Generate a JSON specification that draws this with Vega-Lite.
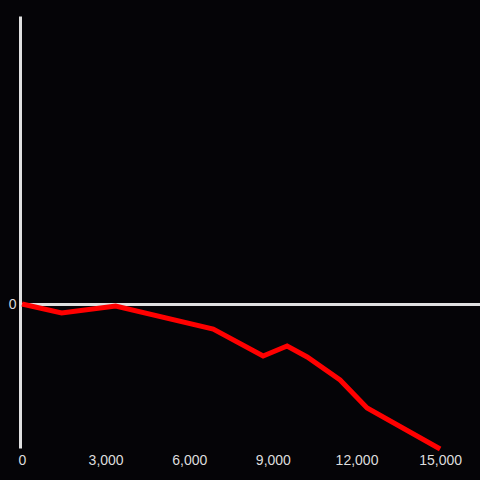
{
  "$schema": "https://vega.github.io/schema/vega-lite/v6.json",
  "width": 460,
  "height": 432,
  "autosize": {"type": "none"},
  "padding": {"left": 20, "top": 16, "right": 0, "bottom": 32},
  "background": "#050407",
  "config": {"view": {"stroke": null}},
  "data": {"values": [
    {"x": 0, "y": 0},
    {"x": 1420, "y": -9},
    {"x": 3360, "y": -2},
    {"x": 6860, "y": -25},
    {"x": 8650, "y": -52},
    {"x": 9510, "y": -42},
    {"x": 10230, "y": -53},
    {"x": 11410, "y": -76},
    {"x": 12380, "y": -104},
    {"x": 15000, "y": -145}
  ]},
  "mark": {"type": "line", "color": "#ff0000", "strokeWidth": 5, "strokeJoin": "miter", "clip": false},
  "encoding": {
    "x": {
      "field": "x", "type": "quantitative",
      "scale": {"domain": [-72, 16430], "nice": false, "zero": false},
      "axis": {
        "title": null, "values": [0, 3000, 6000, 9000, 12000, 15000],
        "format": ",d", "domain": false, "ticks": false, "grid": false,
        "labelColor": "#dddddd", "labelFont": "Liberation Sans", "labelFontSize": 14,
        "labelPadding": 5, "labelFlush": false
      }
    },
    "y": {
      "field": "y", "type": "quantitative",
      "scale": {"domain": [-144, 288], "nice": false, "zero": false},
      "axis": {
        "title": null, "values": [0], "domain": true, "domainColor": "#e0e0e0", "domainWidth": 3,
        "ticks": false, "grid": true, "gridColor": "#e0e0e0", "gridWidth": 3, "gridOpacity": 1,
        "labelColor": "#dddddd", "labelFont": "Liberation Sans", "labelFontSize": 14,
        "labelPadding": 4
      }
    }
  }
}
